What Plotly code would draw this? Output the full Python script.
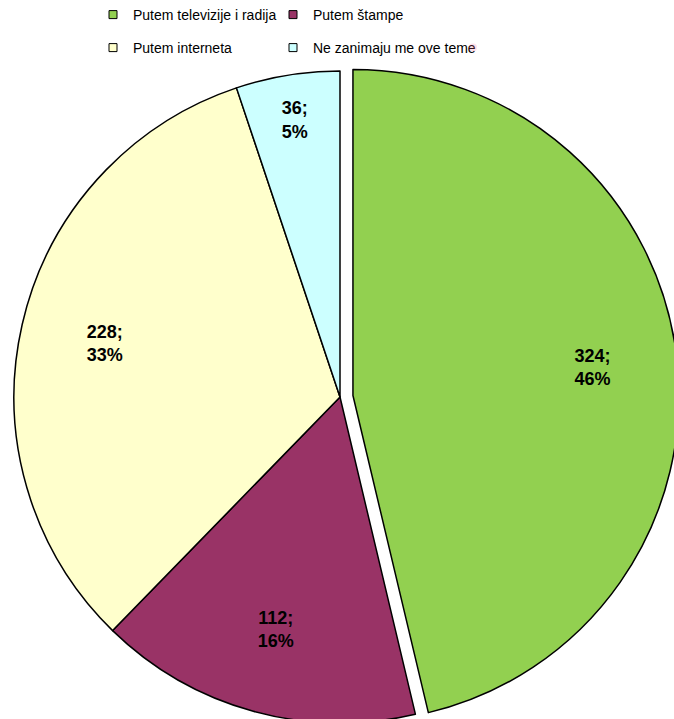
import plotly.graph_objects as go

# ---- data ----
categories = ["Putem televizije i radija", "Putem štampe", "Putem interneta", "Ne zanimaju me ove teme"]
values = [324, 112, 228, 36]
colors = ["#92D050", "#993366", "#FFFFCC", "#CCFFFF"]
pulls = [0.04, 0, 0, 0]
legend_rows = ["legend", "legend", "legend2", "legend2"]

# ---- layout constants ----
W, H = 690, 750
CX, CY, R = 340, 397, 326
half = R * (1 + max(pulls))
dom_x = [(CX - half) / W, (CX + half) / W]
dom_y = [1 - (CY + half) / H, 1 - (CY - half) / H]
FONT = "Arial, Liberation Sans, sans-serif"

fig = go.Figure()
# the pie itself
fig.add_trace(go.Pie(
    labels=categories,
    values=values,
    sort=False,
    direction="clockwise",
    rotation=0,
    pull=pulls,
    marker=dict(colors=colors, line=dict(color="#000000", width=1.5)),
    textinfo="none",
    domain=dict(x=dom_x, y=dom_y),
    showlegend=False,
    hoverinfo="skip",
))
# transparent overlay of the same pie, only to place the data labels further out
fig.add_trace(go.Pie(
    labels=categories,
    values=values,
    sort=False,
    direction="clockwise",
    rotation=0,
    pull=pulls,
    hole=0.48,
    marker=dict(colors=["rgba(0,0,0,0)"] * len(values), line=dict(width=0)),
    texttemplate="%{value};<br>%{percent:.0%}",
    textposition="inside",
    insidetextorientation="horizontal",
    textfont=dict(family=FONT, size=18, color="#000000", weight="bold"),
    domain=dict(x=dom_x, y=dom_y),
    showlegend=False,
    hoverinfo="skip",
))

# legend entries (2x2 grid, one legend per row)
for name, col, lg in zip(categories, colors, legend_rows):
    fig.add_trace(go.Scatter(
        x=[None], y=[None], mode="markers", name=name, legend=lg,
        marker=dict(symbol="square", size=8, color=col, line=dict(color="#000000", width=1)),
        hoverinfo="skip",
    ))
# invisible spacer entry so the long last entry is not clipped
fig.add_trace(go.Scatter(
    x=[None], y=[None], mode="markers", name=" ", legend="legend2",
    marker=dict(size=8, opacity=0), hoverinfo="skip",
))

leg_common = dict(
    orientation="h", xanchor="left", yanchor="middle",
    font=dict(family=FONT, size=14, color="#000000"),
    bgcolor="rgba(0,0,0,0)", borderwidth=0,
    entrywidth=135, entrywidthmode="pixels", itemclick=False, itemdoubleclick=False,
)
fig.update_layout(
    width=W, height=H,
    margin=dict(l=0, r=0, t=0, b=0, autoexpand=False),
    paper_bgcolor="white", plot_bgcolor="white",
    xaxis=dict(visible=False), yaxis=dict(visible=False),
    legend=dict(x=93 / W, y=1 - 15 / H, **leg_common),
    legend2=dict(x=93 / W, y=1 - 48 / H, **leg_common),
    hovermode=False,
)

fig.write_html(
    "out.html",
    config={"displayModeBar": False},
    post_script="document.body.style.margin='0';document.body.style.overflow='hidden';document.documentElement.style.overflow='hidden';",
)
